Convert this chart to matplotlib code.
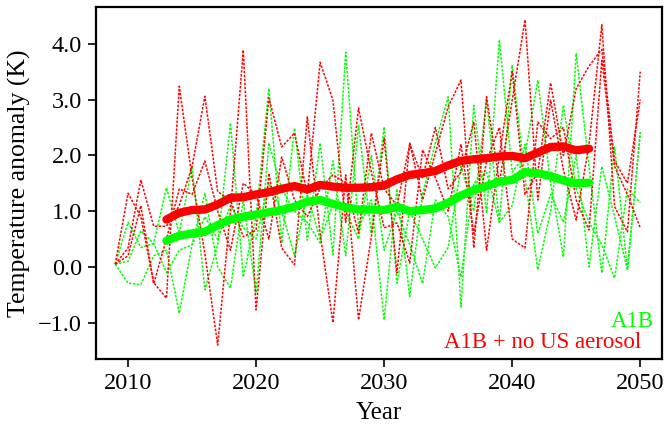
"""
Temperature anomaly ensemble: A1B vs A1B + no US aerosol.
"""

import matplotlib
matplotlib.use('Agg')
import matplotlib.pyplot as plt
import numpy as np

plt.rcParams['font.family'] = ['Liberation Serif', 'DejaVu Serif']

# Ensemble members, one value per year 2009-2050
years = np.arange(2009, 2051)

red_1 = [0.05, 1.32, 0.90, -0.28, -0.56, 3.24, 1.60, 0.24, -1.40, 1.00,
         3.89, -0.77, 1.68, 0.34, 0.04, 2.69, 0.60, -1.00, 1.65, -0.95,
         0.54, 2.31, -0.11, 2.22, 1.20, 2.04, 2.87, 3.35, 0.34, 3.05,
         1.50, 2.99, 4.43, 1.20, 2.99, 1.74, 0.84, 2.20, 4.34, 1.08,
         0.63, 3.50]
red_2 = [0.05, 0.34, 1.56, 0.73, 0.73, 1.10, 1.80, 3.06, 1.35, 1.20,
         0.54, 0.66, 3.03, 2.15, 2.40, 1.30, 3.67, 2.99, 0.80, 2.85,
         1.70, 0.70, 0.79, 0.07, 2.10, 1.60, 1.00, 2.20, 0.60, 1.90,
         2.50, 0.50, 0.34, 2.60, 2.30, 2.50, 1.20, 0.66, 3.70, 1.80,
         1.30, 0.70]
red_3 = [0.05, 0.20, 1.10, -0.30, 0.50, 1.40, 1.30, 1.90, 1.00, 0.30,
         1.50, 1.30, 0.50, 1.97, 1.20, 0.90, 1.40, 1.65, 1.50, 0.60,
         2.40, 1.40, 1.10, 2.20, 1.60, 2.50, 1.40, 1.70, 2.60, 0.30,
         2.00, 3.50, 1.30, 1.70, 3.30, 2.00, 3.20, 3.60, 3.90, 1.90,
         1.50, 3.00]

green_1 = [0.05, 0.80, 0.35, 0.42, 1.42, 0.60, 1.80, -0.41, 0.40, 2.58,
           -0.18, 0.90, 3.20, 0.43, 2.49, 0.48, 2.22, 0.22, 3.85, 0.70,
           1.20, -0.95, 1.40, -0.53, 1.30, 2.22, 3.05, -0.72, 2.90, 0.96,
           4.07, 1.70, 2.00, 3.35, 1.50, 0.18, 3.83, 1.80, -0.11, 2.15,
           -0.05, 2.42]
green_2 = [0.05, -0.29, -0.32, 0.20, 0.30, -0.83, 0.40, 1.32, 0.00, -0.38,
           1.20, -0.47, 2.22, 1.40, 1.00, 0.80, 0.43, 1.90, 0.20, 2.54,
           0.60, 2.51, -0.29, 1.00, 0.50, -0.02, 0.35, 1.80, 1.00, 3.00,
           0.80, 3.62, 1.60, -0.05, 1.00, 2.90, 1.40, 0.80, 0.40, -0.20,
           1.40, 1.15]
green_3 = [0.05, 0.10, 0.65, 0.42, -0.10, 0.30, 0.40, 0.90, 0.50, 1.10,
           0.70, 0.50, 1.50, 1.00, 0.20, 1.30, 0.50, 1.10, 1.00, 0.50,
           2.00, 0.30, 1.00, 0.40, -0.30, 1.20, 0.90, -0.18, 1.50, 1.70,
           0.80, 1.10, 2.20, 0.60, 1.30, 0.80, 2.00, 0.00, 1.80, 0.90,
           -0.05, 2.40]

# Smoothed ensemble means, 2013-2046
mean_years = np.arange(2013, 2047)
red_mean = [0.85, 0.97, 1.02, 1.03, 1.12, 1.24, 1.25, 1.30, 1.34, 1.40,
            1.45, 1.39, 1.47, 1.44, 1.42, 1.42, 1.43, 1.46, 1.57, 1.65,
            1.68, 1.72, 1.82, 1.90, 1.93, 1.95, 1.98, 1.99, 1.95, 2.05,
            2.15, 2.16, 2.09, 2.12]
green_mean = [0.47, 0.56, 0.60, 0.63, 0.75, 0.85, 0.90, 0.94, 0.98, 1.02,
              1.08, 1.17, 1.20, 1.13, 1.07, 1.03, 1.03, 1.02, 1.08, 1.00,
              1.02, 1.05, 1.15, 1.28, 1.38, 1.45, 1.53, 1.56, 1.70, 1.68,
              1.63, 1.55, 1.50, 1.51]

red = '#ff0000'
green = '#00ff00'
dots = (0, (1.6, 1.0))

fig = plt.figure(figsize=(6.65, 4.26), dpi=100)
ax = fig.add_axes([0.1444, 0.1573, 0.8511, 0.8263])

for s in (green_1, green_2, green_3):
    ax.plot(years, s, color=green, lw=1.1, ls=dots)
for s in (red_1, red_2, red_3):
    ax.plot(years, s, color=red, lw=1.1, ls=dots)

ax.plot(mean_years, green_mean, color=green, lw=6, solid_capstyle='round')
ax.plot(mean_years, red_mean, color=red, lw=6, solid_capstyle='round')

ax.set_xlim(2007.5, 2051.7)
ax.set_ylim(-1.65, 4.66)
ax.set_xticks([2010, 2020, 2030, 2040, 2050])
ax.set_yticks([-1, 0, 1, 2, 3, 4])
ax.set_yticklabels(['\u22121.0', '0.0', '1.0', '2.0', '3.0', '4.0'])
ax.tick_params(direction='out', length=6, width=1.2, labelsize=17.5, pad=4)
for sp in ax.spines.values():
    sp.set_linewidth(1.6)

ax.set_xlabel('Year', fontsize=18, labelpad=6)
ax.set_ylabel('Temperature anomaly (K)', fontsize=18.5, labelpad=5)

ax.text(0.985, 0.107, 'A1B', color=green, fontsize=16.5,
        ha='right', va='center', transform=ax.transAxes)
ax.text(0.964, 0.046, 'A1B + no US aerosol', color=red, fontsize=16.5,
        ha='right', va='center', transform=ax.transAxes)

fig.savefig('out.png', dpi=100, facecolor='white')
